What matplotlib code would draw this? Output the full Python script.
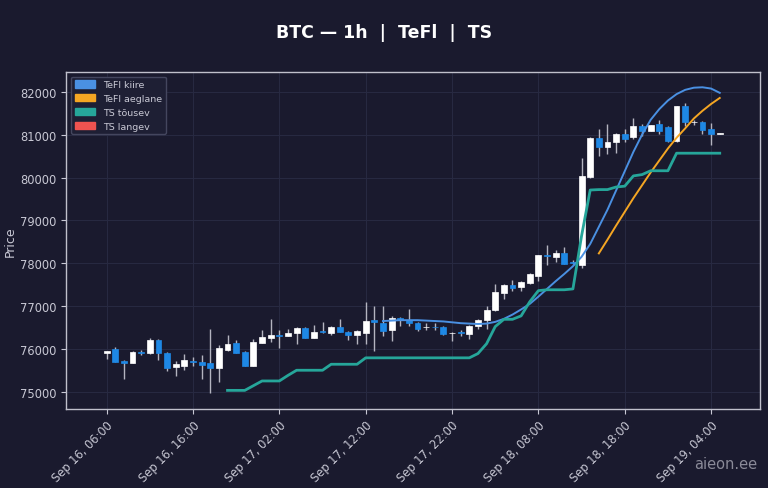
import matplotlib
matplotlib.use("Agg")
import matplotlib.pyplot as plt
import matplotlib.dates as mdates
import matplotlib.patches as mpatches
import numpy as np
import pandas as pd

# hourly candles, Sep 16 06:00 -> Sep 19 05:00
start = "2025-09-16 06:00"
opens = [75910, 76000, 75720, 75680, 75930, 75910, 76210, 75910, 75580, 75600,
         75720, 75700, 75680, 75560, 75980, 76140, 75930, 75610, 76140, 76260,
         76330, 76300, 76380, 76490, 76260, 76420, 76380, 76520, 76400, 76330,
         76380, 76680, 76610, 76450, 76730, 76680, 76610, 76500, 76520, 76520,
         76360, 76390, 76350, 76540, 76680, 76910, 77310, 77500, 77450, 77540,
         77710, 78200, 78150, 78240, 78030, 77970, 80020, 80920, 80720, 80830,
         81020, 80950, 81200, 81090, 81250, 81180, 80850, 81670, 81290, 81300,
         81140, 81020]
highs = [75960, 76050, 75730, 75940, 75970, 76260, 76230, 75920, 75720, 75880,
         75820, 75850, 76470, 76100, 76330, 76200, 75950, 76230, 76440, 76700,
         76450, 76470, 76500, 76510, 76550, 76630, 76530, 76700, 76410, 76430,
         77100, 77000, 77000, 76760, 76750, 76920, 76620, 76610, 76600, 76540,
         76390, 76430, 76560, 76700, 77010, 77520, 77520, 77610, 77590, 77760,
         78200, 78430, 78310, 78380, 78080, 80460, 80950, 81140, 81250, 81040,
         81140, 81390, 81250, 81240, 81340, 81200, 81670, 81740, 81340, 81330,
         81270, 81040]
lows = [75770, 75690, 75300, 75670, 75850, 75890, 75750, 75490, 75370, 75500,
        75610, 75300, 74980, 75230, 75960, 75900, 75590, 75600, 76130, 76170,
        76030, 76290, 76120, 76250, 76250, 76380, 76330, 76390, 76200, 76120,
        76120, 75960, 76300, 76190, 76540, 76530, 76420, 76430, 76440, 76330,
        76190, 76310, 76240, 76470, 76460, 76890, 77170, 77360, 77360, 77520,
        77590, 77970, 78030, 77980, 77980, 77900, 80000, 80510, 80550, 80580,
        80830, 80900, 80980, 81080, 81030, 80830, 80830, 81210, 81230, 81020,
        80760, 81010]
closes = [75950, 75700, 75680, 75930, 75900, 76210, 75910, 75560, 75650, 75750,
          75700, 75630, 75560, 76030, 76120, 75910, 75610, 76170, 76280, 76330,
          76310, 76380, 76490, 76260, 76400, 76400, 76520, 76400, 76330, 76420,
          76660, 76630, 76420, 76730, 76680, 76610, 76470, 76520, 76500, 76350,
          76380, 76380, 76540, 76680, 76910, 77330, 77500, 77430, 77570, 77750,
          78200, 78170, 78240, 77990, 78000, 80040, 80920, 80720, 80830, 81020,
          80900, 81200, 81090, 81230, 81090, 80850, 81670, 81300, 81300, 81110,
          81020, 81030]

# TeFl kiire from candle 32, TeFl aeglane from candle 57, TS tousev from candle 14
tefl_fast = [76650, 76660, 76670, 76670, 76670, 76660, 76650, 76640, 76620, 76600,
             76590, 76580, 76590, 76630, 76700, 76800, 76920, 77050, 77220, 77400,
             77580, 77750, 77930, 78150, 78450, 78850, 79250, 79700, 80150, 80600,
             81000, 81350, 81600, 81800, 81950, 82050, 82100, 82110, 82080, 81980]
tefl_slow = [78230, 78550, 78880, 79200, 79520, 79820, 80120, 80400, 80680, 80930,
             81150, 81380, 81560, 81720, 81860]
ts_up = [75030, 75030, 75030, 75140, 75250, 75250, 75250, 75380, 75500, 75500,
         75500, 75500, 75640, 75640, 75640, 75640, 75790, 75790, 75790, 75790,
         75790, 75790, 75790, 75790, 75790, 75790, 75790, 75790, 75790, 75890,
         76120, 76520, 76690, 76690, 76770, 77100, 77360, 77380, 77380, 77380,
         77400, 78640, 79710, 79720, 79720, 79780, 79800, 80040, 80070, 80160,
         80160, 80160, 80570, 80570, 80570, 80570, 80570, 80570]

BG = "#1a1a2e"
UP = "#ffffff"
DOWN = "#1e88e5"
WICK = "#b4b4c0"
FAST = "#4a90e2"
SLOW = "#f5a623"
TSUP = "#26a69a"
TSDN = "#ef5350"
TXT = "#c8c8d4"

times = pd.date_range(start, periods=len(opens), freq="h")
x = mdates.date2num(times.to_pydatetime())
o = np.array(opens); h = np.array(highs); l = np.array(lows); c = np.array(closes)

fig = plt.figure(figsize=(7.68, 4.89), dpi=100, facecolor=BG)
ax = fig.add_axes([0.086, 0.162, 0.904, 0.689], facecolor=BG)

up = c >= o
cols = np.where(up, UP, DOWN)
body_lo = np.minimum(o, c)
body_h = np.maximum(np.abs(c - o), 12)
w = 0.68 / 24
ax.vlines(x, l, h, color=WICK, linewidth=1.0, zorder=2)
ax.bar(x, body_h, w, bottom=body_lo, color=cols, edgecolor=cols, linewidth=0.5, zorder=3)

ax.plot(x[32:32 + len(tefl_fast)], tefl_fast, color=FAST, linewidth=1.4, zorder=4)
ax.plot(x[57:57 + len(tefl_slow)], tefl_slow, color=SLOW, linewidth=1.4, zorder=4)
ax.plot(x[14:14 + len(ts_up)], ts_up, color=TSUP, linewidth=2.0, zorder=4)

hr = 1 / 24
ax.set_xlim(x[0] - 4.7 * hr, x[0] + 75.7 * hr)
ax.set_ylim(74600, 82470)

ticks = pd.date_range("2025-09-16 06:00", "2025-09-19 04:00", freq="10h")
ax.set_xticks(mdates.date2num(ticks.to_pydatetime()))
ax.xaxis.set_major_formatter(mdates.DateFormatter("%b %d, %H:%M"))
plt.setp(ax.get_xticklabels(), rotation=45, ha="right", rotation_mode="anchor")
ax.set_yticks(np.arange(75000, 82001, 1000))

ax.tick_params(colors=TXT, labelsize=8.3)
for s in ax.spines.values():
    s.set_color("#c0c0cc")
    s.set_linewidth(1.0)
ax.grid(True, color="#282a42", linewidth=0.7)
ax.set_axisbelow(True)
ax.set_ylabel("Price", color=TXT, fontsize=9, labelpad=2)

fig.suptitle("BTC — 1h  |  TeFl  |  TS", color="white", fontsize=12.5,
             fontweight="bold", y=0.95)

handles = [mpatches.Patch(color=FAST, label="TeFl kiire"),
           mpatches.Patch(color=SLOW, label="TeFl aeglane"),
           mpatches.Patch(color=TSUP, label="TS tõusev"),
           mpatches.Patch(color=TSDN, label="TS langev")]
leg = ax.legend(handles=handles, loc="upper left", fontsize=6.8, facecolor="#1e1f34",
                edgecolor="#44465e", labelcolor=TXT, framealpha=1.0,
                handlelength=2.2, handleheight=0.8)

fig.text(0.986, 0.035, "aieon.ee", color="#8a8a98", fontsize=10.5, ha="right", va="bottom")

fig.savefig("out.png", dpi=100, facecolor=BG)
